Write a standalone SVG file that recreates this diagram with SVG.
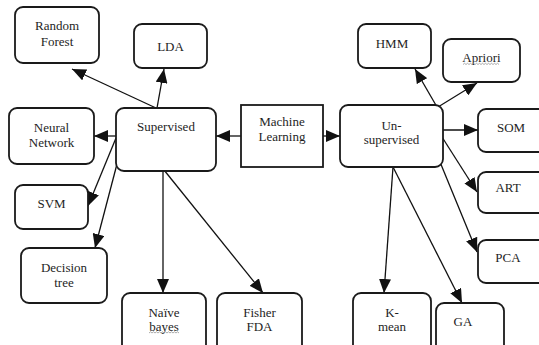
<svg xmlns="http://www.w3.org/2000/svg" width="539" height="345" viewBox="0 0 539 345">
  <style>
    .box { fill: #fff; stroke: #1a1a1a; stroke-width: 1.8; }
    .lbl { font-family: 'Liberation Serif', 'DejaVu Serif', serif; font-size: 13px; fill: #1e1e1e; text-anchor: middle; }
    .edge { stroke: #111; stroke-width: 1.3; fill: none; marker-end: url(#arrow); }
    .squiggle { stroke: #888; stroke-width: 0.7; fill: none; }
  </style>
  <defs>
    <marker id="arrow" markerUnits="userSpaceOnUse" markerWidth="14" markerHeight="12" refX="14" refY="6" orient="auto">
      <path d="M0,0 L14,6 L0,12 z" fill="#111"/>
    </marker>
  </defs>
  <rect width="539" height="345" fill="#fff"/>

  <!-- connectors -->
  <g id="connectors">
    <line class="edge" x1="241" y1="136" x2="216" y2="136"/>
    <line class="edge" x1="323" y1="136" x2="340" y2="136"/>
    <line class="edge" x1="156" y1="108" x2="72" y2="69"/>
    <line class="edge" x1="157" y1="108" x2="164" y2="69"/>
    <line class="edge" x1="116" y1="136" x2="94" y2="136"/>
    <line class="edge" x1="116" y1="138" x2="88" y2="206"/>
    <line class="edge" x1="117" y1="164" x2="95" y2="248"/>
    <line class="edge" x1="163" y1="170" x2="163" y2="293"/>
    <line class="edge" x1="164" y1="170" x2="263" y2="293"/>
    <line class="edge" x1="437" y1="107" x2="415" y2="69"/>
    <line class="edge" x1="438" y1="107" x2="477" y2="83"/>
    <line class="edge" x1="443" y1="130" x2="478" y2="130"/>
    <line class="edge" x1="442" y1="137" x2="477" y2="192"/>
    <line class="edge" x1="440" y1="162" x2="477" y2="252"/>
    <line class="edge" x1="393" y1="167" x2="384" y2="293"/>
    <line class="edge" x1="393" y1="167" x2="462" y2="303"/>
  </g>

  <!-- root -->
  <g id="machine-learning">
    <rect class="box" x="241" y="105" width="82" height="62"/>
    <text class="lbl" x="282" y="126">Machine</text>
    <text class="lbl" x="282" y="141">Learning</text>
  </g>

  <!-- supervised branch -->
  <g id="supervised">
    <rect class="box" x="116" y="108" width="100" height="63" rx="8"/>
    <text class="lbl" x="166" y="131">Supervised</text>
  </g>
  <g id="random-forest">
    <rect class="box" x="15" y="7" width="84" height="56" rx="8"/>
    <text class="lbl" x="57" y="30">Random</text>
    <text class="lbl" x="57" y="46">Forest</text>
  </g>
  <g id="lda">
    <rect class="box" x="134" y="24" width="73" height="44" rx="8"/>
    <text class="lbl" x="170.5" y="50.5">LDA</text>
  </g>
  <g id="neural-network">
    <rect class="box" x="9" y="108" width="85" height="56" rx="8"/>
    <text class="lbl" x="51.5" y="131.5">Neural</text>
    <text class="lbl" x="51.5" y="146.5">Network</text>
  </g>
  <g id="svm">
    <rect class="box" x="15" y="185" width="73" height="44" rx="8"/>
    <text class="lbl" x="51.5" y="207.5">SVM</text>
  </g>
  <g id="decision-tree">
    <rect class="box" x="21" y="248" width="86" height="55" rx="8"/>
    <text class="lbl" x="64" y="271.5">Decision</text>
    <text class="lbl" x="64" y="286.5">tree</text>
  </g>
  <g id="naive-bayes">
    <rect class="box" x="122" y="293" width="84" height="62" rx="8"/>
    <text class="lbl" x="164" y="316.5">Naïve</text>
    <text class="lbl" x="164" y="330.5">bayes</text>
    <path class="squiggle" d="M149,333 l1.5,-1.2 l1.5,1.2 l1.5,-1.2 l1.5,1.2 l1.5,-1.2 l1.5,1.2 l1.5,-1.2 l1.5,1.2 l1.5,-1.2 l1.5,1.2 l1.5,-1.2 l1.5,1.2 l1.5,-1.2 l1.5,1.2 l1.5,-1.2 l1.5,1.2 l1.5,-1.2 l1.5,1.2 l1.5,-1.2 l1.5,1.2"/>
  </g>
  <g id="fisher-fda">
    <rect class="box" x="217" y="293" width="85" height="62" rx="8"/>
    <text class="lbl" x="259.5" y="316.5">Fisher</text>
    <text class="lbl" x="259.5" y="330.5">FDA</text>
  </g>

  <!-- unsupervised branch -->
  <g id="unsupervised">
    <rect class="box" x="340" y="105" width="103" height="62" rx="8"/>
    <text class="lbl" x="391.5" y="129.5">Un-</text>
    <text class="lbl" x="391.5" y="143.5">supervised</text>
  </g>
  <g id="hmm">
    <rect class="box" x="358" y="24" width="73" height="44" rx="8"/>
    <text class="lbl" x="392" y="47.5">HMM</text>
  </g>
  <g id="apriori">
    <rect class="box" x="443" y="39" width="77" height="43" rx="8"/>
    <text class="lbl" x="481.5" y="62">Apriori</text>
    <path class="squiggle" d="M463,64.5 l1.5,-1.2 l1.5,1.2 l1.5,-1.2 l1.5,1.2 l1.5,-1.2 l1.5,1.2 l1.5,-1.2 l1.5,1.2 l1.5,-1.2 l1.5,1.2 l1.5,-1.2 l1.5,1.2 l1.5,-1.2 l1.5,1.2 l1.5,-1.2 l1.5,1.2 l1.5,-1.2 l1.5,1.2 l1.5,-1.2 l1.5,1.2 l1.5,-1.2 l1.5,1.2 l1.5,-1.2 l1.5,1.2"/>
  </g>
  <g id="som">
    <rect class="box" x="478" y="109" width="70" height="43" rx="8"/>
    <text class="lbl" x="511" y="131.5">SOM</text>
  </g>
  <g id="art">
    <rect class="box" x="478" y="172" width="70" height="41" rx="8"/>
    <text class="lbl" x="508" y="192">ART</text>
  </g>
  <g id="pca">
    <rect class="box" x="478" y="240" width="70" height="43" rx="8"/>
    <text class="lbl" x="508" y="261.5">PCA</text>
  </g>
  <g id="k-mean">
    <rect class="box" x="353" y="293" width="78" height="62" rx="8"/>
    <text class="lbl" x="392" y="316.5">K-</text>
    <text class="lbl" x="392" y="330.5">mean</text>
  </g>
  <g id="ga">
    <rect class="box" x="436" y="303" width="68" height="52" rx="8"/>
    <text class="lbl" x="463" y="325.5">GA</text>
  </g>
</svg>
